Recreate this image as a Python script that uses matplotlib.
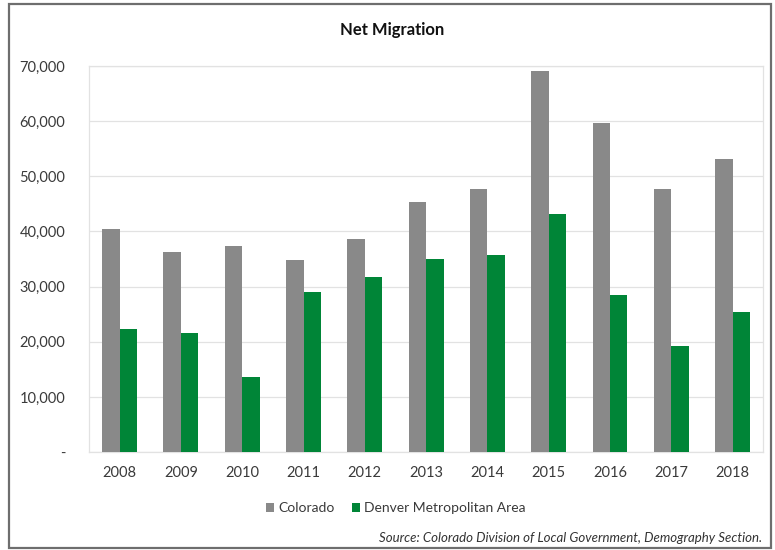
import numpy as np
import matplotlib.pyplot as plt
from matplotlib.patches import Rectangle
from matplotlib.ticker import FuncFormatter

# Net migration by year
years = ["2008", "2009", "2010", "2011", "2012", "2013", "2014", "2015", "2016", "2017", "2018"]
colorado = [40400, 36200, 37450, 34850, 38700, 45400, 47650, 69100, 59700, 47650, 53100]
denver = [22250, 21600, 13700, 29000, 31800, 35000, 35750, 43100, 28450, 19150, 25400]

plt.rcParams['font.family'] = ['Lato', 'DejaVu Sans']

fig = plt.figure(figsize=(7.75, 5.5), dpi=100)
ax = fig.add_axes([0.1148, 0.178, 0.87, 0.702])

x = np.arange(len(years))
w = 0.285
ax.bar(x - w / 2, colorado, w, color='#898989', label='Colorado', zorder=3)
ax.bar(x + w / 2, denver, w, color='#008537', label='Denver Metropolitan Area', zorder=3)

ax.set_xlim(-0.5, len(years) - 0.5)
ax.set_ylim(0, 70000)
ax.set_yticks(np.arange(0, 70001, 10000))
ax.yaxis.set_major_formatter(FuncFormatter(lambda v, p: '-' if v == 0 else f'{int(v):,}'))
ax.set_xticks(x)
ax.set_xticklabels(years)
ax.grid(axis='y', color='#e2e2e2', linewidth=0.9, zorder=0)
for s in ax.spines.values():
    s.set_color('#e2e2e2')
    s.set_linewidth(0.9)
ax.tick_params(axis='y', length=0, pad=17, labelsize=10.5, labelcolor='#3a3a3a')
ax.tick_params(axis='x', length=0, pad=10, labelsize=10.5, labelcolor='#3a3a3a')

fig.text(0.506, 0.945, 'Net Migration', ha='center', va='center',
         fontsize=12, fontweight='bold', color='#111111')

ax.legend(loc='center', bbox_to_anchor=(0.455, -0.145), ncol=2, frameon=False,
          fontsize=10, handlelength=0.6, handleheight=0.6, handletextpad=0.3,
          columnspacing=1.2, labelcolor='#3a3a3a')

fig.text(0.984, 0.022, 'Source: Colorado Division of Local Government, Demography Section.',
         ha='right', va='center', fontsize=9.5, style='italic', color='#333333')

# outer frame
fig.patches.append(Rectangle((0.011, 0.004), 0.984, 0.988, transform=fig.transFigure,
                             fill=False, edgecolor='#6e6e6e', linewidth=1.6))

fig.savefig('out.png', dpi=100)
